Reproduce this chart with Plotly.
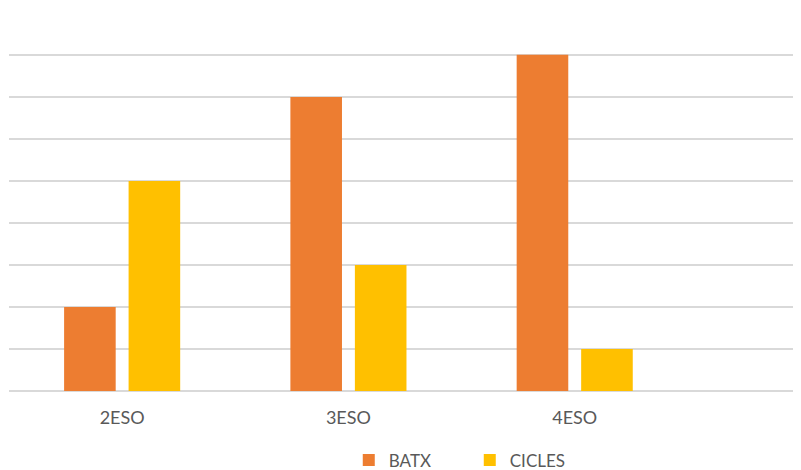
import plotly.graph_objects as go

categories = ["2ESO", "3ESO", "4ESO"]
batx = [2, 7, 8]
cicles = [5, 3, 1]

fig = go.Figure()
fig.add_trace(go.Bar(name="BATX", x=categories, y=batx, marker=dict(color="#ED7D31", line=dict(width=0))))
fig.add_trace(go.Bar(name="CICLES", x=categories, y=cicles, marker=dict(color="#FFC000", line=dict(width=0))))

font_family = "Lato, 'Open Sans', sans-serif"
fig.update_layout(
    width=801, height=478,
    margin=dict(l=1, r=8, t=4, b=95),
    paper_bgcolor="white", plot_bgcolor="white",
    barmode="group", bargap=0.43, bargroupgap=0.2,
    font=dict(family=font_family, size=16, color="#595959"),
    showlegend=True,
    legend=dict(orientation="h", x=0.429, xanchor="left", y=-0.183, yanchor="middle",
                font=dict(size=17, color="#595959"), entrywidth=76, entrywidthmode="pixels",
                bgcolor="rgba(0,0,0,0)"),
    xaxis=dict(type="category", range=[-0.5, 3.0], showgrid=False, showline=False,
               ticks="", tickfont=dict(size=18, color="#595959"), ticklabelstandoff=14,
               fixedrange=True),
    yaxis=dict(range=[0, 9.02], dtick=1, showgrid=True, gridcolor="#D9D9D9", gridwidth=2,
               zeroline=True, zerolinecolor="#D9D9D9", zerolinewidth=2,
               showticklabels=False, ticks="", showline=False, fixedrange=True),
)

fig.write_html("out.html")
